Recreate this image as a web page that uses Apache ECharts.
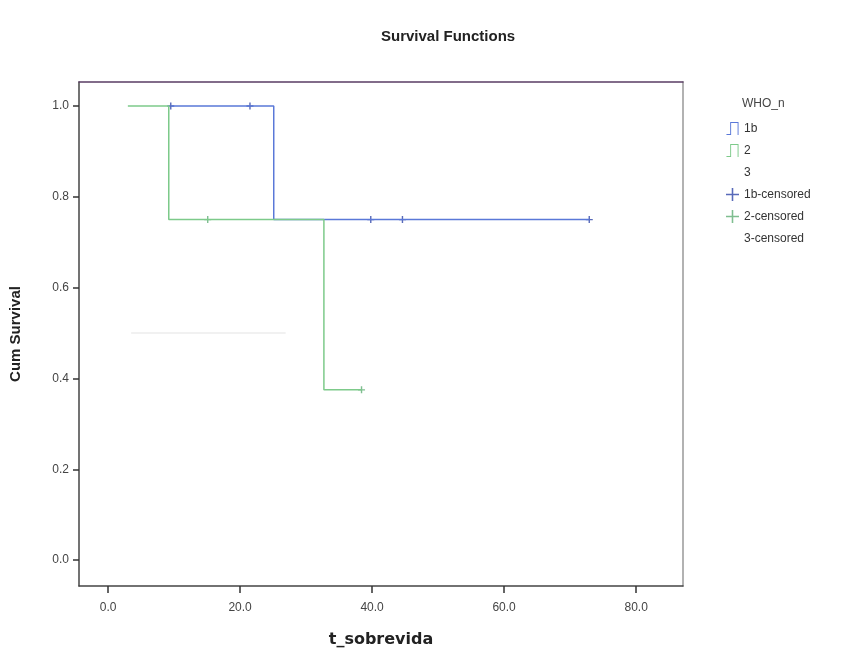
<!DOCTYPE html>
<html>
<head>
<meta charset="utf-8">
<script src="https://cdn.jsdelivr.net/npm/echarts@6/dist/echarts.min.js"></script>
<style>
  html, body { margin: 0; padding: 0; background: #fff; }
  #main { width: 852px; height: 653px; }
</style>
</head>
<body>
<div id="main"></div>
<script>
// KM curves: time, survival (step changes)
var time1b = [9.5, 25.1, 72.9];
var surv1b = [1.0, 0.75, 0.75];
var time2 = [3.0, 9.2, 32.7, 38.4];
var surv2 = [1.0, 0.75, 0.375, 0.375];
var time3 = [3.5, 26.9];
var surv3 = [0.5, 0.5];

// censored marks
var cens1bT = [9.5, 21.5, 39.8, 44.6, 72.9];
var cens1bS = [1.0, 1.0, 0.75, 0.75, 0.75];
var cens2T = [15.1, 38.4];
var cens2S = [0.75, 0.375];

var xTicks = [0, 20, 40, 60, 80];
var yTicks = [0, 0.2, 0.4, 0.6, 0.8, 1.0];

var colBlue = '#5a78d8';
var colGreen = '#7dca8a';
var colBlueMark = '#2e45a8';
var colGreenMark = '#5fae74';

var plusPath = 'path://M4,0H6V4H10V6H6V10H4V6H0V4H4Z';
var plusThin = 'path://M4.4,0H5.6V4.4H10V5.6H5.6V10H4.4V5.6H0V4.4H4.4Z';
var stepPath = 'path://M0,13H4V0H13V14H12V1H5V14H0Z';

function zip(a, b) {
    var out = [];
    for (var i = 0; i < a.length; i++) out.push([a[i], b[i]]);
    return out;
}

var chart = echarts.init(document.getElementById('main'));

var axisLabelStyle = { fontSize: 12, color: '#444', fontFamily: 'Liberation Sans, Arial, sans-serif' };

var option = {
    backgroundColor: '#fff',
    animation: false,
    title: {
        text: 'Survival Functions',
        left: 376,
        top: 24,
        textStyle: { fontSize: 15, fontWeight: 'bold', color: '#222', fontFamily: 'Liberation Sans, Arial, sans-serif' }
    },
    graphic: [{
        type: 'text',
        left: 742,
        top: 98,
        style: { text: 'WHO_n', fontSize: 12, fill: '#444', fontFamily: 'Liberation Sans, Arial, sans-serif' }
    }],
    legend: {
        orient: 'vertical',
        left: 721,
        top: 117,
        itemWidth: 13,
        itemHeight: 13,
        itemGap: 9,
        selectedMode: false,
        textStyle: { fontSize: 12, color: '#333', fontFamily: 'Liberation Sans, Arial, sans-serif' },
        data: [
            { name: '1b', icon: stepPath, itemStyle: { color: colBlue } },
            { name: '2', icon: stepPath, itemStyle: { color: colGreen } },
            { name: '3', icon: stepPath, itemStyle: { color: '#ffffff' } },
            { name: '1b-censored', icon: plusThin, itemStyle: { color: colBlueMark } },
            { name: '2-censored', icon: plusThin, itemStyle: { color: colGreenMark } },
            { name: '3-censored', icon: plusThin, itemStyle: { color: '#ffffff' } }
        ]
    },
    grid: {
        left: 78, right: 169, top: 82, bottom: 65,
        show: false
    },
    xAxis: [{
        type: 'value',
        min: -4.4, max: 87.1,
        name: 't_sobrevida',
        nameLocation: 'middle',
        nameGap: 46,
        nameTextStyle: { fontSize: 16, fontWeight: 'bold', color: '#222', fontFamily: 'DejaVu Sans, sans-serif' },
        axisLine: { show: true, onZero: false, lineStyle: { color: '#444', width: 1.5 } },
        axisTick: { show: true, customValues: xTicks, length: 7, lineStyle: { color: '#333', width: 1.5 } },
        axisLabel: Object.assign({ customValues: xTicks, margin: 16, formatter: function (v) { return v.toFixed(1); } }, axisLabelStyle),
        splitLine: { show: false }
    }, {
        type: 'value',
        position: 'top',
        min: -4.4, max: 87.1,
        axisLine: { show: true, onZero: false, lineStyle: { color: '#5a3c64', width: 1.5 } },
        axisTick: { show: false },
        axisLabel: { show: false },
        splitLine: { show: false }
    }],
    yAxis: [{
        type: 'value',
        min: -0.057, max: 1.053,
        name: 'Cum Survival',
        nameLocation: 'middle',
        nameGap: 56,
        nameTextStyle: { fontSize: 15, fontWeight: 'bold', color: '#222', fontFamily: 'Liberation Sans, Arial, sans-serif' },
        axisLine: { show: true, onZero: false, lineStyle: { color: '#444', width: 1.5 } },
        axisTick: { show: true, customValues: yTicks, length: 6, lineStyle: { color: '#333', width: 1.5 } },
        axisLabel: Object.assign({ customValues: yTicks, margin: 10, formatter: function (v) { return v.toFixed(1); } }, axisLabelStyle),
        splitLine: { show: false }
    }, {
        type: 'value',
        position: 'right',
        min: -0.057, max: 1.053,
        axisLine: { show: true, onZero: false, lineStyle: { color: '#999', width: 1.5 } },
        axisTick: { show: false },
        axisLabel: { show: false },
        splitLine: { show: false }
    }],
    series: [
        {
            name: '3', type: 'line', step: 'end', showSymbol: false,
            data: zip(time3, surv3),
            lineStyle: { color: '#ececec', width: 1.5 },
            itemStyle: { color: '#ffffff' }
        },
        {
            name: '1b', type: 'line', step: 'end', showSymbol: false,
            data: zip(time1b, surv1b),
            lineStyle: { color: colBlue, width: 1.5 },
            itemStyle: { color: colBlue }
        },
        {
            name: '2', type: 'line', step: 'end', showSymbol: false,
            data: zip(time2, surv2),
            lineStyle: { color: colGreen, width: 1.5 },
            itemStyle: { color: colGreen }
        },
        {
            name: '1b-censored', type: 'scatter', symbol: plusPath, symbolSize: 7,
            data: zip(cens1bT, cens1bS),
            itemStyle: { color: colBlueMark }
        },
        {
            name: '2-censored', type: 'scatter', symbol: plusPath, symbolSize: 7,
            data: zip(cens2T, cens2S),
            itemStyle: { color: colGreenMark }
        },
        {
            name: '3-censored', type: 'scatter', symbol: plusPath, symbolSize: 7,
            data: [],
            itemStyle: { color: '#ffffff' }
        }
    ]
};

chart.setOption(option);
</script>
</body>
</html>
